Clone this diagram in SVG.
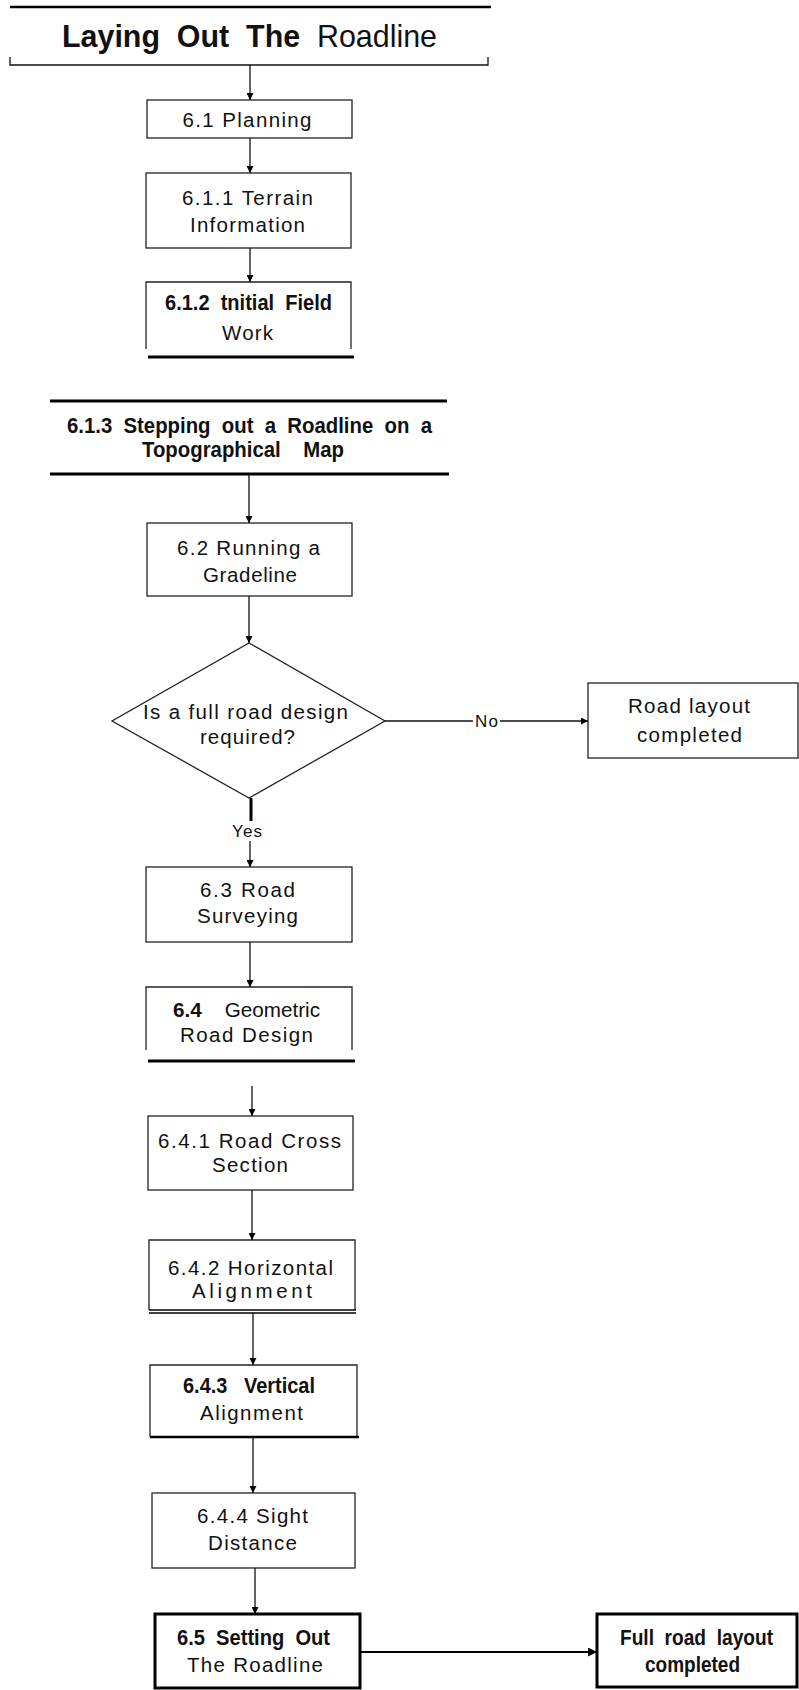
<svg xmlns="http://www.w3.org/2000/svg" width="799" height="1690" viewBox="0 0 799 1690" xml:space="preserve">
<style>
text{font-family:"Liberation Sans",Arial,sans-serif;fill:#111;text-anchor:middle;white-space:pre}
.r{font-size:20.5px}
.s{font-size:17px}
.b{font-size:22px;font-weight:bold}
.t{font-size:32px}
.box{fill:none;stroke:#222;stroke-width:1.3}
.thick{fill:none;stroke:#000;stroke-width:3}
.ln{fill:none;stroke:#111;stroke-width:1.3}
</style>
<defs>
<marker id="ah" viewBox="0 0 10 10" refX="10" refY="5" markerWidth="7" markerHeight="7" markerUnits="userSpaceOnUse" orient="auto">
<path d="M0,0 L10,5 L0,10 z" fill="#000"/>
</marker>
<marker id="ahb" viewBox="0 0 10 10" refX="10" refY="5" markerWidth="9" markerHeight="9" markerUnits="userSpaceOnUse" orient="auto">
<path d="M0,0 L10,5 L0,10 z" fill="#000"/>
</marker>
</defs>
<g id="title">
<line x1="10" y1="7" x2="491" y2="7" stroke="#000" stroke-width="2.6"/>
<path d="M10,57 V65 H488 V57" class="ln" stroke-width="1.6"/>
<text class="t" x="249.5" y="47" textLength="375" lengthAdjust="spacingAndGlyphs"><tspan font-weight="bold">Laying  Out  The</tspan>  Roadline</text>
</g>
<g id="n-planning">
<rect class="box" x="147" y="100" width="205" height="38"/>
<text class="r" x="247" y="127" textLength="129" lengthAdjust="spacing">6.1 Planning</text>
</g>
<g id="n-terrain">
<rect class="box" x="146" y="173" width="205" height="75"/>
<text class="r" x="247.5" y="205" textLength="131" lengthAdjust="spacing">6.1.1 Terrain</text>
<text class="r" x="247.5" y="232" textLength="115" lengthAdjust="spacing">Information</text>
</g>
<g id="n-field">
<path class="box" d="M146,349 V282 H351 V349"/>
<line x1="148" y1="357" x2="354" y2="357" stroke="#000" stroke-width="3"/>
<text class="b" x="248.5" y="310" textLength="167" lengthAdjust="spacingAndGlyphs">6.1.2  tnitial  Field</text>
<text class="r" x="247.5" y="340" textLength="51" lengthAdjust="spacing">Work</text>
</g>
<g id="n-stepping">
<line x1="50" y1="401" x2="447" y2="401" stroke="#000" stroke-width="3"/>
<line x1="50" y1="474" x2="449" y2="474" stroke="#000" stroke-width="3"/>
<text class="b" x="249.5" y="433" textLength="365" lengthAdjust="spacingAndGlyphs">6.1.3  Stepping  out  a  Roadline  on  a</text>
<text class="b" x="243" y="457" textLength="202" lengthAdjust="spacingAndGlyphs">Topographical    Map</text>
</g>
<g id="n-gradeline">
<rect class="box" x="147" y="523" width="205" height="73"/>
<text class="r" x="248.5" y="555" textLength="143" lengthAdjust="spacing">6.2 Running a</text>
<text class="r" x="250" y="582" textLength="94" lengthAdjust="spacing">Gradeline</text>
</g>
<g id="n-decision">
<polygon class="box" points="249,643 385,721 249,798 112,721"/>
<text class="r" x="245.5" y="719" textLength="205" lengthAdjust="spacing">Is a full road design</text>
<text class="r" x="247.5" y="744" textLength="95" lengthAdjust="spacing">required?</text>
</g>
<g id="n-roadlayout">
<rect class="box" x="588" y="683" width="210" height="75"/>
<text class="r" x="689" y="713" textLength="122" lengthAdjust="spacing">Road layout</text>
<text class="r" x="689.5" y="742" textLength="105" lengthAdjust="spacing">completed</text>
</g>
<g id="n-surveying">
<rect class="box" x="146" y="867" width="206" height="75"/>
<text class="r" x="247.5" y="897" textLength="95" lengthAdjust="spacing">6.3 Road</text>
<text class="r" x="247.5" y="923" textLength="101" lengthAdjust="spacing">Surveying</text>
</g>
<g id="n-geometric">
<path class="box" d="M146,1050 V987 H352 V1050"/>
<line x1="148" y1="1061" x2="355" y2="1061" stroke="#000" stroke-width="3"/>
<text class="r" x="246.5" y="1017" textLength="147" lengthAdjust="spacingAndGlyphs"><tspan font-weight="bold">6.4</tspan>    Geometric</text>
<text class="r" x="246.5" y="1042" textLength="133" lengthAdjust="spacing">Road Design</text>
</g>
<g id="n-crosssection">
<rect class="box" x="148" y="1116" width="205" height="74"/>
<text class="r" x="249.5" y="1148" textLength="183" lengthAdjust="spacing">6.4.1 Road Cross</text>
<text class="r" x="250" y="1172" textLength="76" lengthAdjust="spacing">Section</text>
</g>
<g id="n-horizontal">
<path class="box" d="M149,1310 V1240 H355 V1310"/>
<line x1="149" y1="1310" x2="356" y2="1310" stroke="#000" stroke-width="1.3"/>
<line x1="149" y1="1313" x2="356" y2="1313" stroke="#000" stroke-width="1.6"/>
<text class="r" x="250.5" y="1275" textLength="165" lengthAdjust="spacing">6.4.2 Horizontal</text>
<text class="r" x="252" y="1298" textLength="120" lengthAdjust="spacing">Alignment</text>
</g>
<g id="n-vertical">
<path class="box" d="M150,1437 V1365 H357 V1437"/>
<line x1="150" y1="1437" x2="359" y2="1437" stroke="#000" stroke-width="2.6"/>
<text class="b" x="249" y="1393" textLength="132" lengthAdjust="spacingAndGlyphs">6.4.3   Vertical</text>
<text class="r" x="251.5" y="1420" textLength="103" lengthAdjust="spacing">Alignment</text>
</g>
<g id="n-sight">
<rect class="box" x="152" y="1493" width="203" height="75"/>
<text class="r" x="252.5" y="1523" textLength="111" lengthAdjust="spacing">6.4.4 Sight</text>
<text class="r" x="252.5" y="1550" textLength="89" lengthAdjust="spacing">Distance</text>
</g>
<g id="n-settingout">
<rect class="thick" x="155" y="1614" width="205" height="74"/>
<text class="b" x="253.5" y="1645" textLength="153" lengthAdjust="spacingAndGlyphs" font-weight="normal">6.5  Setting  Out</text>
<text class="r" x="255" y="1672" textLength="136" lengthAdjust="spacing">The Roadline</text>
</g>
<g id="n-fulllayout">
<rect class="thick" x="597" y="1614" width="200" height="73"/>
<text class="b" x="696.5" y="1645" textLength="153" lengthAdjust="spacingAndGlyphs">Full  road  layout</text>
<text class="b" x="692.5" y="1672" textLength="95" lengthAdjust="spacingAndGlyphs">completed</text>
</g>
<g id="connectors">
<line class="ln" x1="250" y1="65" x2="250" y2="100" marker-end="url(#ah)"/>
<line class="ln" x1="250" y1="138" x2="250" y2="173" marker-end="url(#ah)"/>
<line class="ln" x1="250" y1="248" x2="250" y2="282" marker-end="url(#ah)"/>
<line class="ln" x1="249" y1="474" x2="249" y2="523" marker-end="url(#ah)"/>
<line class="ln" x1="249" y1="596" x2="249" y2="643" marker-end="url(#ah)"/>
<line x1="385" y1="721" x2="473" y2="721" stroke="#111" stroke-width="1.3"/>
<line class="ln" x1="500" y1="721" x2="588" y2="721" marker-end="url(#ah)"/>
<text class="s" x="486.5" y="727" textLength="23" lengthAdjust="spacing">No</text>
<line x1="251" y1="798" x2="251" y2="821" stroke="#000" stroke-width="3"/>
<text class="s" x="247" y="837" textLength="30" lengthAdjust="spacing">Yes</text>
<line class="ln" x1="250" y1="841" x2="250" y2="867" marker-end="url(#ah)"/>
<line class="ln" x1="250" y1="942" x2="250" y2="987" marker-end="url(#ah)"/>
<line class="ln" x1="252" y1="1086" x2="252" y2="1116" marker-end="url(#ah)"/>
<line class="ln" x1="252" y1="1190" x2="252" y2="1240" marker-end="url(#ah)"/>
<line class="ln" x1="253" y1="1313" x2="253" y2="1365" marker-end="url(#ah)"/>
<line class="ln" x1="253" y1="1437" x2="253" y2="1493" marker-end="url(#ah)"/>
<line class="ln" x1="255" y1="1568" x2="255" y2="1614" marker-end="url(#ah)"/>
<line x1="360" y1="1652" x2="597" y2="1652" stroke="#000" stroke-width="2" marker-end="url(#ahb)"/>
</g>
</svg>
